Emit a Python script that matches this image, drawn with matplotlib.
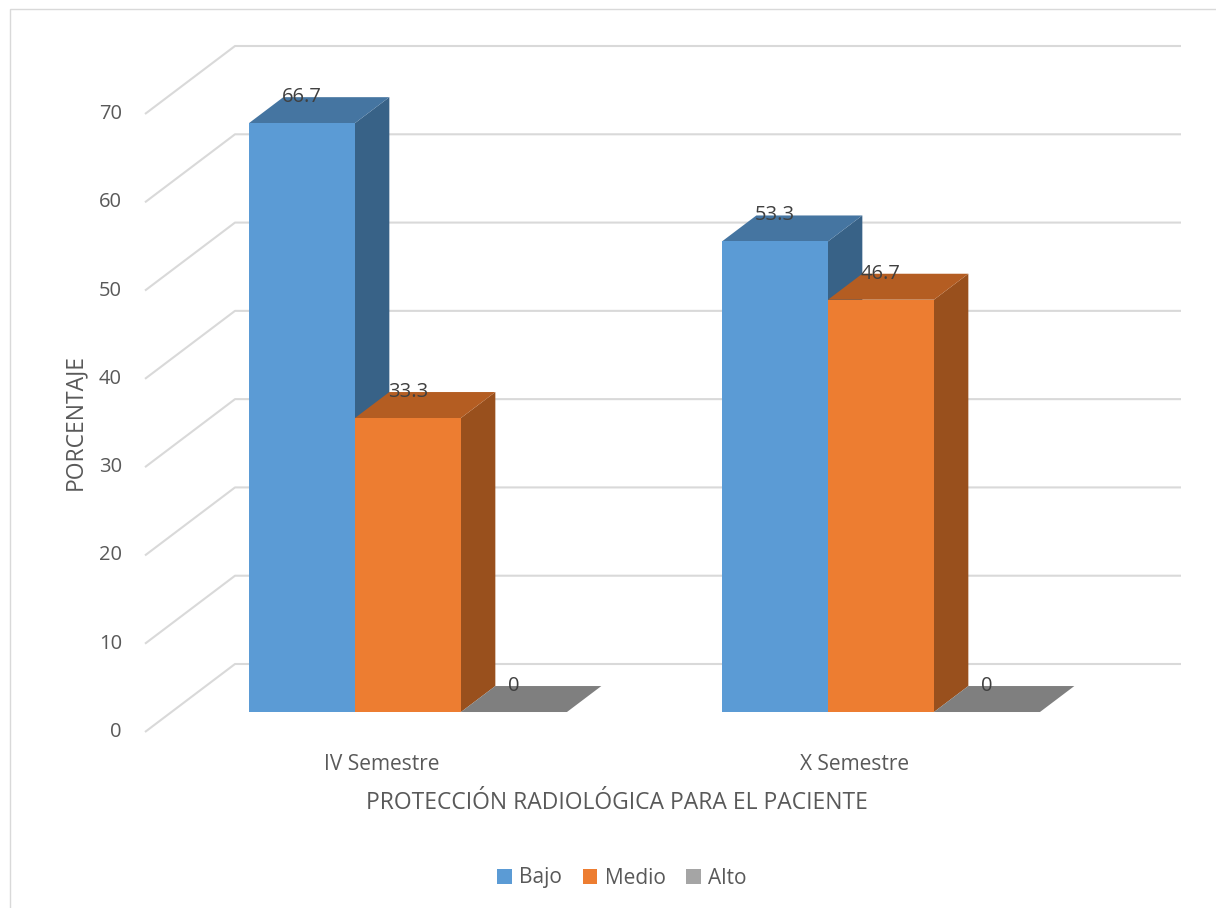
import matplotlib.pyplot as plt
from matplotlib.patches import Polygon, Rectangle, Patch

categories = ["IV Semestre", "X Semestre"]
series = ["Bajo", "Medio", "Alto"]
values = {
    "Bajo": [66.7, 53.3],
    "Medio": [33.3, 46.7],
    "Alto": [0, 0],
}
y_ticks = [0, 10, 20, 30, 40, 50, 60, 70]

front_col = {"Bajo": "#5B9BD5", "Medio": "#ED7D31", "Alto": "#A5A5A5"}
top_col = {"Bajo": "#4575A1", "Medio": "#B45D22", "Alto": "#7F7F7F"}
side_col = {"Bajo": "#386287", "Medio": "#99501D", "Alto": "#6E6E6E"}

plt.rcParams['font.family'] = ['Open Sans', 'DejaVu Sans']

W, H = 1216, 908
fig = plt.figure(figsize=(W / 100, H / 100), dpi=100)

# chart border
fig.patches.append(Rectangle((10 / W, -0.1), 1.2, 1 - 9 / H + 0.1, transform=fig.transFigure,
                             fill=False, edgecolor="#d9d9d9", linewidth=1))

# pixel -> data mapping (x in category units, y in value units)
px_x, x0 = 473.0, 145.0
px_y, y0 = 618.0 / 70, 732.0
ax = fig.add_axes([0, 0, 1, 1])
ax.set_xlim((0 - x0) / px_x, (W - x0) / px_x)
ax.set_ylim((y0 - H) / px_y, y0 / px_y)
ax.axis('off')

# oblique depth vector for full depth
ddx, ddy = 90 / px_x, 68 / px_y
n_cat = len(categories)
grid_c = "#d9d9d9"

# walls / gridlines
for t in y_ticks:
    ax.plot([0, ddx, n_cat + ddx], [t, t + ddy, t + ddy], color=grid_c, lw=1.5, zorder=1,
            solid_capstyle='butt')
    ax.text(-23 / px_x, t, str(t), ha='right', va='center', fontsize=14.5, color="#595959")

# bars
f_d, b_d = 0.294, 0.676
bw = 106 / px_x
for i, cat in enumerate(categories):
    cx = i + 0.5 + f_d * ddx
    left0 = cx - bw * len(series) / 2
    for j, s in enumerate(series):
        v = values[s][i]
        xl = left0 + j * bw
        xr = xl + bw
        yb = f_d * ddy
        yt = yb + v
        ox, oy = (b_d - f_d) * ddx, (b_d - f_d) * ddy
        side = [(xr, yb), (xr, yt), (xr + ox, yt + oy), (xr + ox, yb + oy)]
        top = [(xl, yt), (xr, yt), (xr + ox, yt + oy), (xl + ox, yt + oy)]
        front = [(xl, yb), (xr, yb), (xr, yt), (xl, yt)]
        z = 2 + i * 3 + j
        ax.add_patch(Polygon(side, closed=True, facecolor=side_col[s], edgecolor='none', zorder=z))
        ax.add_patch(Polygon(top, closed=True, facecolor=top_col[s], edgecolor='none', zorder=z))
        if v > 0:
            ax.add_patch(Polygon(front, closed=True, facecolor=front_col[s], edgecolor='none', zorder=z))
        ax.text((xl + xr) / 2, yt + oy, f"{v:g}", ha='center', va='center', fontsize=14.5,
                color="#404040", zorder=20)
    ax.text(i + 0.5, (y0 - 765) / px_y, cat, ha='center', va='center', fontsize=15, color="#595959")

ax.text((617 - x0) / px_x, (y0 - 803) / px_y, "PROTECCIÓN RADIOLÓGICA PARA EL PACIENTE",
        ha='center', va='center', fontsize=16.5, color="#595959")
ax.text((75 - x0) / px_x, (y0 - 422) / px_y, "PORCENTAJE", ha='center', va='center',
        rotation=90, fontsize=16.5, color="#595959")

handles = [Patch(facecolor=front_col[s], edgecolor='none', label=s) for s in series]
fig.legend(handles=handles, loc='center', bbox_to_anchor=(622 / W, 1 - 878 / H), ncol=3,
           frameon=False, fontsize=15, handlelength=0.7, handleheight=0.7,
           handletextpad=0.35, columnspacing=1.0, labelcolor="#595959")

fig.savefig("out.png", dpi=100)
